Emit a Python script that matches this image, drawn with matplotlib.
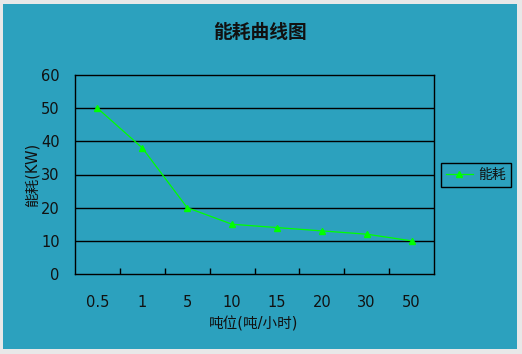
import matplotlib
matplotlib.use("Agg")
import matplotlib.pyplot as plt
from matplotlib.patches import Rectangle

plt.rcParams['font.family'] = ['DejaVu Sans', 'Noto Sans CJK SC']

# data
tonnage = ["0.5", "1", "5", "10", "15", "20", "30", "50"]
energy = [50, 38, 20, 15, 14, 13, 12, 10]

teal = "#2CA1BE"
W, H = 522, 354

fig = plt.figure(figsize=(W / 100, H / 100), dpi=100)
fig.patch.set_facecolor("#E8E8E8")
fig.add_artist(Rectangle((3 / W, 1 - 349 / H), 514 / W, 345 / H,
                         transform=fig.transFigure, facecolor=teal,
                         edgecolor="none", zorder=-5))

ax = fig.add_axes([75 / W, 1 - 274 / H, 359 / W, 199 / H])
ax.set_facecolor(teal)

x = list(range(len(tonnage)))
ax.plot(x, energy, color="#00FF00", lw=0.9, marker="^", ms=5,
        mec="#00FF00", mfc="#00FF00", label="能耗", zorder=3)

ax.set_xlim(-0.5, len(tonnage) - 0.5)
ax.set_ylim(0, 60)
ax.set_yticks(range(0, 61, 10))
ax.set_xticks(x)
ax.set_xticklabels(tonnage)
ax.set_xticks([i + 0.5 for i in x[:-1]], minor=True)
ax.tick_params(axis="x", which="major", length=0, pad=15, labelsize=10.5,
               colors="#111111")
ax.tick_params(axis="x", which="minor", direction="in", length=4, width=1,
               color="black")
ax.tick_params(axis="y", length=0, pad=11, labelsize=10.5, colors="#111111")

for v in range(10, 60, 10):
    ax.axhline(v, color="black", lw=1, zorder=1)
for s in ax.spines.values():
    s.set_color("black")
    s.set_linewidth(1)

fig.text(260 / W, 1 - 33 / H, "能耗曲线图", ha="center", va="center",
         fontsize=13.5, fontweight="bold", color="#111111",
         family=["Noto Sans CJK SC", "DejaVu Sans"])
fig.text(254 / W, 1 - 324 / H, "吨位(吨/小时)", ha="center", va="center",
         fontsize=10.5, color="#111111")
fig.text(32 / W, 1 - 175 / H, "能耗(KW)", ha="center", va="center",
         rotation=90, fontsize=10.5, color="#111111")

leg = ax.legend(loc="center", bbox_to_anchor=(476 / W, 1 - 175 / H),
                bbox_transform=fig.transFigure, fontsize=10,
                frameon=True, fancybox=False, handlelength=1.9,
                handletextpad=0.4, borderpad=0.35, borderaxespad=0)
leg.get_frame().set_facecolor(teal)
leg.get_frame().set_edgecolor("black")
leg.get_frame().set_linewidth(1)
leg.get_frame().set_alpha(1)
for t in leg.get_texts():
    t.set_color("#111111")

fig.savefig("out.png", dpi=100, facecolor=fig.get_facecolor())
